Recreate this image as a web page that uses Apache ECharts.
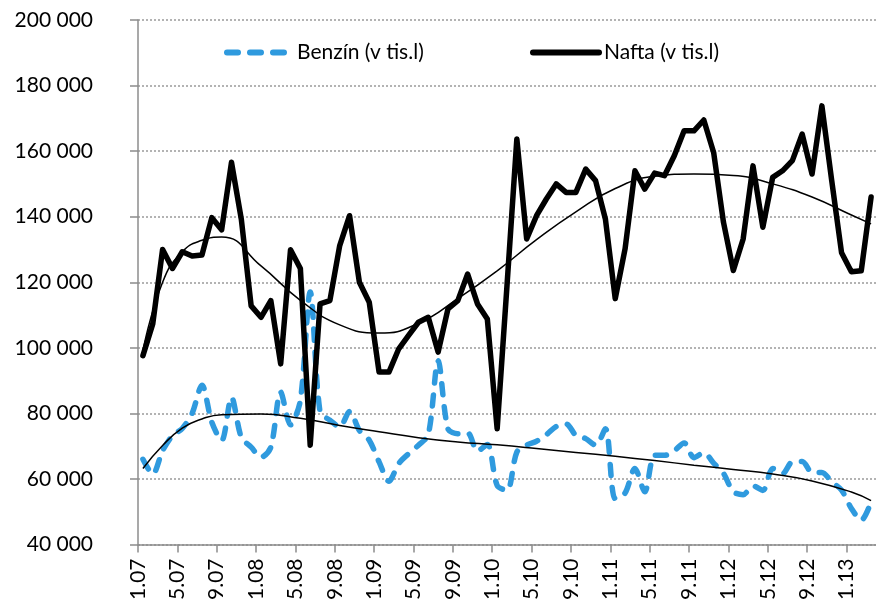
<!DOCTYPE html>
<html>
<head>
<meta charset="utf-8">
<script src="https://cdn.jsdelivr.net/npm/echarts@6/dist/echarts.min.js"></script>
<style>
  html, body { margin: 0; padding: 0; background: #fff; }
  #chart { width: 876px; height: 603px; }
</style>
</head>
<body>
<div id="chart"></div>
<script>
// monthly values, 1.07 .. 3.13
const benzin = [
  66000, 61500, 68600, 73200, 75400, 80000, 88600, 77300, 71700, 84900,
  72700, 69700, 66600, 69700, 86500, 76500, 84000, 117000, 80500, 77900,
  75900, 80600, 74800, 71800, 65200, 59300, 64700, 67700, 70300, 73500,
  96000, 75300, 73800, 74000, 68500, 70500, 58000, 56500, 68200, 70300,
  71500, 73500, 76000, 76800, 73300, 72300, 70300, 75300, 54000, 55700,
  63200, 56100, 67200, 67200, 68600, 71000, 66500, 68000, 64800, 61700,
  56100, 55200, 57900, 56500, 63200, 61600, 65200, 65300, 62000, 62000,
  59100, 56600, 51000, 47400, 53000
];
const nafta = [
  97600, 107300, 130000, 124200, 129300, 128000, 128300, 139700, 136000, 156600,
  139200, 112800, 109300, 114400, 95100, 129900, 124200, 70300, 113400, 114400,
  131200, 140300, 120000, 113900, 92600, 92600, 99700, 103800, 107800, 109300,
  98700, 111900, 114400, 122500, 113400, 108800, 75300, 119000, 163700, 133200,
  140300, 145400, 150000, 147400, 147400, 154500, 151000, 139300, 115000, 130200,
  154000, 148400, 153300, 152500, 158600, 166200, 166200, 169500, 159600, 138300,
  123600, 133200, 155500, 136800, 152000, 154000, 157100, 165200, 153000, 173800,
  151000, 129000, 123200, 123500, 146000
];

// trend lines at these month indexes
const trendMonths = [0, 2, 4, 6, 8, 12, 16, 20, 24, 28, 32, 36, 40, 44, 48, 52, 56, 60, 64, 68, 72, 74];
const benzinTrend = [
  63200, 70200, 75500, 78300, 79600, 79800, 78500, 76300, 74400, 72600, 71300,
  70400, 69300, 68100, 66900, 65600, 64200, 62900, 61500, 59400, 56000, 53400
];
const naftaTrend = [
  99000, 120000, 129300, 132800, 133800, 125000, 114500, 107000, 104500, 107500, 115000,
  123500, 133000, 141500, 148600, 152300, 153000, 152600, 150000, 146000, 140500, 137800
];

const tickLabels = ['1.07', '5.07', '9.07', '1.08', '5.08', '9.08', '1.09', '5.09', '9.09', '1.10',
  '5.10', '9.10', '1.11', '5.11', '9.11', '1.12', '5.12', '9.12', '1.13'];
const yTicks = { min: 40000, max: 200000, step: 20000 };

const FONT = 'Lato';
const BLUE = '#2f9ade';

const toPoints = (vals) => vals.map((v, i) => [i + 0.5, v]);
const trendPoints = (vals) => vals.map((v, k) => [trendMonths[k] + 0.5, v]);

// legend symbols are hidden, only the line sample stays
const noMarker = { color: 'transparent', borderColor: 'transparent', borderWidth: 0 };

const chart = echarts.init(document.getElementById('chart'));
chart.setOption({
  animation: false,
  backgroundColor: '#fff',
  textStyle: { fontFamily: FONT },
  grid: { left: 138, top: 20, width: 739, height: 526 },
  legend: [
    {
      data: ['Benzín (v tis.l)'],
      left: 219, top: 37,
      itemWidth: 63, itemHeight: 24,
      itemStyle: noMarker,
      lineStyle: { width: 6, type: [11, 12], cap: 'round' },
      textStyle: { fontSize: 21, fontFamily: FONT, color: '#000', padding: [0, 0, 0, 2] }
    },
    {
      data: ['Nafta (v tis.l)'],
      left: 525, top: 37,
      itemWidth: 66, itemHeight: 24,
      itemStyle: noMarker,
      lineStyle: { width: 6, cap: 'round' },
      textStyle: { fontSize: 21, fontFamily: FONT, color: '#000' }
    }
  ],
  xAxis: {
    type: 'value',
    min: 0,
    max: 75,
    interval: 4,
    axisLine: { show: true, lineStyle: { color: '#8c8c8c', width: 1.5 } },
    axisTick: { show: true, length: 8, lineStyle: { color: '#8c8c8c', width: 1.5 } },
    splitLine: { show: false },
    axisLabel: {
      rotate: 90,
      margin: 14,
      fontSize: 21,
      fontFamily: FONT,
      color: '#000',
      showMaxLabel: false,
      formatter: (v) => (v % 4 === 0 ? (tickLabels[v / 4] || '') : '')
    }
  },
  yAxis: {
    type: 'value',
    min: yTicks.min,
    max: yTicks.max,
    interval: yTicks.step,
    axisLine: { show: true, lineStyle: { color: '#8c8c8c', width: 1.5 } },
    axisTick: { show: true, length: 8, lineStyle: { color: '#8c8c8c', width: 1.5 } },
    splitLine: { show: true, lineStyle: { color: '#9a9a9a', width: 1.5, type: [2, 2] } },
    axisLabel: {
      margin: 45,
      fontSize: 21,
      fontFamily: FONT,
      color: '#000',
      formatter: (v) => String(v).replace(/\B(?=(\d{3})+(?!\d))/g, ' ')
    }
  },
  series: [
    {
      name: 'Benzín (v tis.l)',
      type: 'line',
      data: toPoints(benzin),
      smooth: 0.3,
      showSymbol: false,
      symbol: 'none',
      color: BLUE,
      lineStyle: { color: BLUE, width: 5.5, type: [11, 12], cap: 'round', join: 'round' },
      z: 2
    },
    {
      name: 'Nafta (v tis.l)',
      type: 'line',
      data: toPoints(nafta),
      showSymbol: false,
      symbol: 'none',
      color: '#000',
      lineStyle: { color: '#000', width: 5.5, cap: 'round', join: 'round' },
      z: 3
    },
    {
      name: 'benzinTrend',
      type: 'line',
      data: trendPoints(benzinTrend),
      smooth: 0.5,
      symbol: 'none',
      silent: true,
      lineStyle: { color: '#000', width: 1.5 },
      z: 4
    },
    {
      name: 'naftaTrend',
      type: 'line',
      data: trendPoints(naftaTrend),
      smooth: 0.5,
      symbol: 'none',
      silent: true,
      lineStyle: { color: '#000', width: 1.5 },
      z: 4
    }
  ]
});
</script>
</body>
</html>
